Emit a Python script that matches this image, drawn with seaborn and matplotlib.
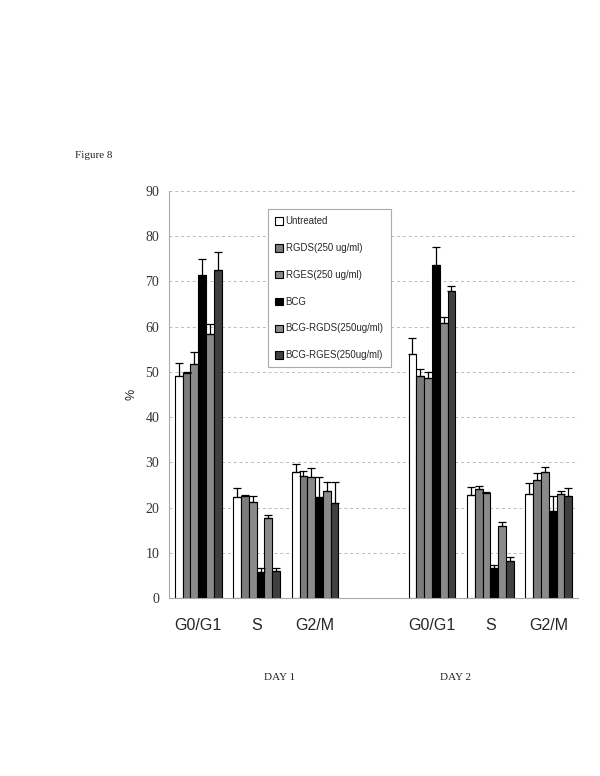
import pandas as pd
import seaborn as sns
from matplotlib import pyplot as plt

# x slots: day 1 phases, one empty gap, day 2 phases
SLOTS = ["d1_G0G1", "d1_S", "d1_G2M", "gap", "d2_G0G1", "d2_S", "d2_G2M"]
SLOT_LABELS = ["G0/G1", "S", "G2/M", "", "G0/G1", "S", "G2/M"]
DATA_SLOTS = ["d1_G0G1", "d1_S", "d1_G2M", "d2_G0G1", "d2_S", "d2_G2M"]

TREATMENTS = [
    "Untreated",
    "RGDS(250 ug/ml)",
    "RGES(250 ug/ml)",
    "BCG",
    "BCG-RGDS(250ug/ml)",
    "BCG-RGES(250ug/ml)",
]
COLORS = ["#ffffff", "#7c7c7c", "#8a8a8a", "#000000", "#8a8a8a", "#404040"]

# mean % per treatment, in DATA_SLOTS order
MEANS = {
    "Untreated": [49.2, 22.4, 27.8, 54.0, 22.8, 23.0],
    "RGDS(250 ug/ml)": [49.8, 22.7, 27.1, 49.2, 24.1, 26.1],
    "RGES(250 ug/ml)": [51.7, 21.3, 26.9, 48.6, 23.3, 27.8],
    "BCG": [71.5, 5.8, 22.4, 73.6, 6.7, 19.2],
    "BCG-RGDS(250ug/ml)": [58.4, 17.8, 23.7, 60.8, 15.9, 23.0],
    "BCG-RGES(250ug/ml)": [72.5, 6.1, 21.0, 67.9, 8.2, 22.7],
}
# upper error (SD)
ERRORS = {
    "Untreated": [2.7, 1.9, 1.8, 3.6, 1.8, 2.4],
    "RGDS(250 ug/ml)": [0.2, 0.2, 1.0, 1.5, 0.7, 1.5],
    "RGES(250 ug/ml)": [2.6, 1.4, 1.8, 1.3, 0.1, 1.2],
    "BCG": [3.5, 0.9, 4.5, 4.1, 0.7, 3.4],
    "BCG-RGDS(250ug/ml)": [2.1, 0.5, 2.0, 1.4, 0.9, 0.7],
    "BCG-RGES(250ug/ml)": [4.1, 0.6, 4.7, 1.2, 0.9, 1.6],
}


def main():
    rows = []
    for t in TREATMENTS:
        for slot, m, e in zip(DATA_SLOTS, MEANS[t], ERRORS[t]):
            rows.append({"slot": slot, "treatment": t, "value": m, "err": e})
    df = pd.DataFrame(rows)

    sns.set_style("white")
    fig = plt.figure(figsize=(6, 7.76), dpi=100)
    ax = fig.add_axes([0.2817, 0.229, 0.6817, 0.525])

    sns.barplot(
        data=df,
        x="slot",
        y="value",
        hue="treatment",
        order=SLOTS,
        hue_order=TREATMENTS,
        palette=COLORS,
        width=0.8,
        edgecolor="black",
        linewidth=0.8,
        errorbar=None,
        ax=ax,
    )

    # one-sided error bars on top of each bar
    lookup = df.set_index(["treatment", "slot"])["err"]
    for t, cont in zip(TREATMENTS, ax.containers):
        for bar in cont:
            h = bar.get_height()
            if pd.isna(h) or h == 0:
                continue
            xc = bar.get_x() + bar.get_width() / 2
            slot = SLOTS[int(round(xc))]
            ax.errorbar(
                xc, h, yerr=[[0], [lookup[(t, slot)]]],
                fmt="none", ecolor="black", elinewidth=0.9, capsize=3, capthick=0.9,
            )

    ax.set_ylim(0, 90)
    ax.set_xlim(-0.5, 6.5)
    ax.set_yticks(range(0, 91, 10))
    ax.set_yticklabels([str(v) for v in range(0, 91, 10)],
                       fontfamily="Liberation Serif", fontsize=10, color="#333333")
    ax.yaxis.grid(True, linestyle=(0, (3, 3)), color="#bbbbbb", linewidth=0.7)
    ax.set_axisbelow(True)

    ax.set_xticks(range(len(SLOTS)))
    ax.set_xticklabels(SLOT_LABELS, fontfamily="Liberation Sans", fontsize=11.5)
    ax.set_xticks([i - 0.5 for i in range(len(SLOTS) + 1)], minor=True)
    ax.tick_params(axis="x", which="major", length=0, pad=14)
    ax.tick_params(axis="x", which="minor", length=4, color="#aaaaaa", direction="out")
    ax.tick_params(axis="y", length=4, color="#aaaaaa", direction="out", pad=3)

    for s in ["top", "right"]:
        ax.spines[s].set_visible(False)
    for s in ["left", "bottom"]:
        ax.spines[s].set_color("#aaaaaa")
        ax.spines[s].set_linewidth(0.8)

    ax.set_xlabel("")
    ax.set_ylabel("%", fontfamily="Liberation Sans", fontsize=9, labelpad=6)

    handles, labels = ax.get_legend_handles_labels()
    leg = ax.legend(
        handles, labels,
        loc="upper left", bbox_to_anchor=(0.242, 0.955),
        prop={"family": "Liberation Sans", "size": 6.9},
        handlelength=0.8, handleheight=0.8, handletextpad=0.3,
        labelspacing=1.75, borderpad=0.75, borderaxespad=0, fancybox=False,
        framealpha=1, edgecolor="#aaaaaa",
    )
    leg.get_frame().set_linewidth(0.8)

    fig.text(75 / 600, 1 - 155 / 776, "Figure 8", fontfamily="Liberation Serif",
             fontsize=8, va="center")
    fig.text(280 / 600, 1 - 678 / 776, "DAY 1", fontfamily="Liberation Serif",
             fontsize=8, ha="center", va="center")
    fig.text(455 / 600, 1 - 678 / 776, "DAY 2", fontfamily="Liberation Serif",
             fontsize=8, ha="center", va="center")

    fig.savefig("out.png", dpi=100)


if __name__ == "__main__":
    main()
